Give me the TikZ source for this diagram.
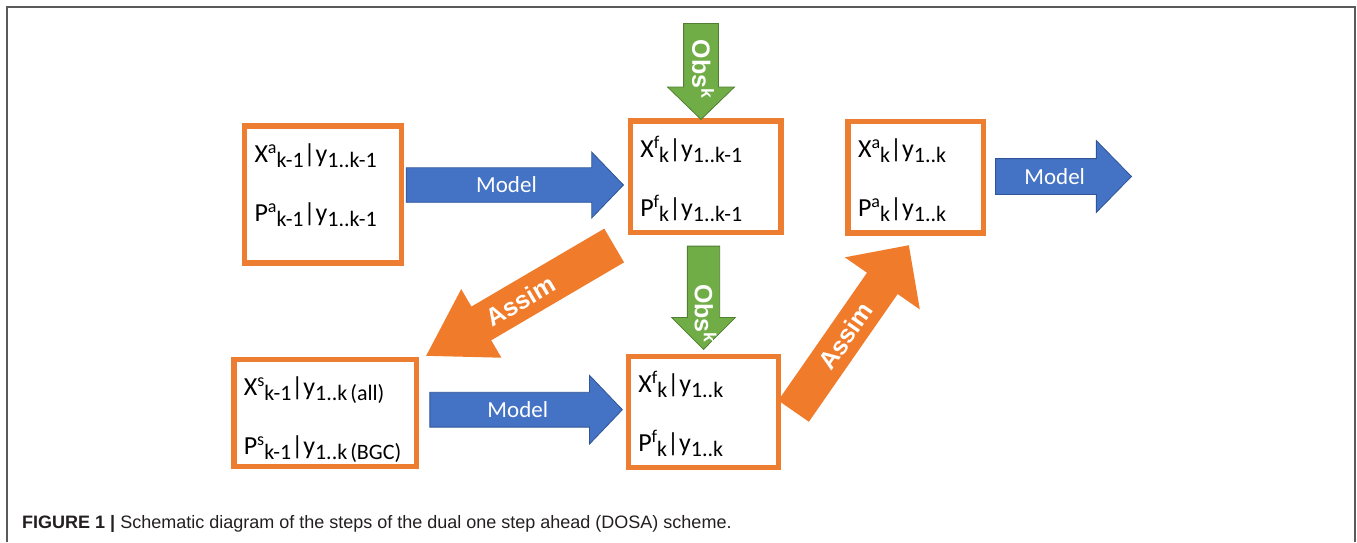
\documentclass[tikz,border=0pt]{standalone}
\usepackage{fontspec}
\usepackage{graphicx}
\setmainfont{Carlito}
\newfontfamily\capfont{Liberation Sans}
\usetikzlibrary{shapes.arrows}

\definecolor{boxorange}{HTML}{ED7D31}
\definecolor{assimorange}{HTML}{F07B2A}
\definecolor{modelblue}{HTML}{4472C4}
\definecolor{modelblueline}{HTML}{2F5597}
\definecolor{obsgreen}{HTML}{70AD47}
\definecolor{obsgreenline}{HTML}{507E32}
\definecolor{framegray}{HTML}{5A5A5A}
\definecolor{captext}{HTML}{231F20}

% superscript followed by subscript, as in the slides
\newcommand{\supsub}[2]{\raisebox{9pt}{\fontsize{18}{18}\selectfont #1}\raisebox{-5pt}{\fontsize{22}{22}\selectfont #2}}
\newcommand{\lowsub}[1]{\raisebox{-5pt}{\fontsize{22}{22}\selectfont #1}}
% label pushed towards the arrow tip
\newcommand{\pushed}[2]{\makebox[0pt]{\hspace*{#1}#2}}

\begin{document}
\begin{tikzpicture}[x=1pt, y=-1pt,
    state/.style = {draw=boxorange, line width=5.5pt, fill=white, align=left,
      inner xsep=10pt, inner ysep=0pt, text height=36pt,
      font=\fontsize{26}{59}\selectfont},
    model/.style = {single arrow, draw=modelblueline, line width=0.8pt, fill=modelblue,
      text=white, font=\fontsize{23}{23}\selectfont, text height=15pt, text depth=0pt,
      single arrow head indent=0pt, anchor=tip},
    obs/.style = {single arrow, draw=obsgreenline, line width=0.8pt, fill=obsgreen,
      text=white, font=\capfont\bfseries\fontsize{25}{25}\selectfont,
      text height=17.5pt, text depth=0pt, rotate=-90, anchor=tip},
    assim/.style = {single arrow, fill=assimorange, text=white,
      font=\capfont\bfseries\fontsize{25}{25}\selectfont, anchor=tip}]
  \useasboundingbox (0,0) rectangle (1357,542);
  \draw[framegray, line width=2pt] (7,542) -- (7,7) -- (1355,7) -- (1355,542);

  % states
  \node[state, minimum width=156.8pt, text width=136.8pt, text depth=100.9pt] (xa) at (322.9,194.5)
    {X\supsub{a}{k-1}|y\lowsub{1..k-1}\\P\supsub{a}{k-1}|y\lowsub{1..k-1}};
  \node[state, minimum width=150.5pt, text width=130.5pt, text depth=75.2pt] (xf) at (705.5,176.7)
    {X\supsub{f}{k}|y\lowsub{1..k-1}\\P\supsub{f}{k}|y\lowsub{1..k-1}};
  \node[state, minimum width=135.5pt, text width=115.5pt, text depth=75.2pt] (xan) at (915.8,177.3)
    {X\supsub{a}{k}|y\lowsub{1..k}\\P\supsub{a}{k}|y\lowsub{1..k}};
  \node[state, minimum width=182.8pt, text width=162.8pt, text depth=70.8pt] (xs) at (325.2,412.9)
    {X\supsub{s}{k-1}|y\lowsub{1..k\hspace{3pt}(all)}\\P\supsub{s}{k-1}|y\lowsub{1..k\hspace{3pt}(BGC)}};
  \node[state, minimum width=150.4pt, text width=130.4pt, text depth=75.1pt] (xfn) at (703.5,412)
    {X\supsub{f}{k}|y\lowsub{1..k}\\P\supsub{f}{k}|y\lowsub{1..k}};

  % model steps
  \node[model, minimum height=217.3pt, inner ysep=9.35pt, single arrow head extend=15.65pt,
    single arrow tip angle=92.2] (m1) at (624,185) {Model};
  \node[model, minimum height=192.5pt, inner ysep=9.5pt, single arrow head extend=17pt,
    single arrow tip angle=92.6] (m2) at (622.9,409.7) {Model};
  \node[model, minimum height=136pt, inner ysep=10pt, single arrow head extend=18pt,
    single arrow tip angle=91.3] (m3) at (1132,176.5) {Model};

  % observations
  \node[obs, minimum height=96pt, inner ysep=8.25pt, single arrow head extend=16pt,
    single arrow tip angle=91.8] (o1) at (701,120) {\pushed{12pt}{Obs\textsuperscript{k}}};
  \node[obs, minimum height=103.3pt, inner ysep=7pt, single arrow head extend=15.75pt,
    single arrow tip angle=89.8] (o2) at (703.5,350) {\pushed{48pt}{Obs\textsuperscript{k}}};

  % assimilation
  \node[assim, rotate=210.4, minimum height=218pt, inner ysep=10.4pt, single arrow head extend=20.2pt,
    single arrow tip angle=63.7, text height=0pt, text depth=17.9pt] (s1) at (425.8,356)
    {\pushed{31pt}{\rotatebox{180}{Assim}}};
  \node[assim, rotate=55.2, minimum height=202pt, inner ysep=9.5pt, single arrow head extend=27pt,
    single arrow tip angle=89, text height=17.9pt, text depth=0pt] (s2) at (909,245) {Assim};

  \node[anchor=base west, inner sep=0pt, text=captext, font=\capfont\fontsize{18}{18}\selectfont] (caption) at (22,528)
    {\textbf{FIGURE 1 |} Schematic diagram of the steps of the dual one step ahead (DOSA) scheme.};
\end{tikzpicture}
\end{document}
